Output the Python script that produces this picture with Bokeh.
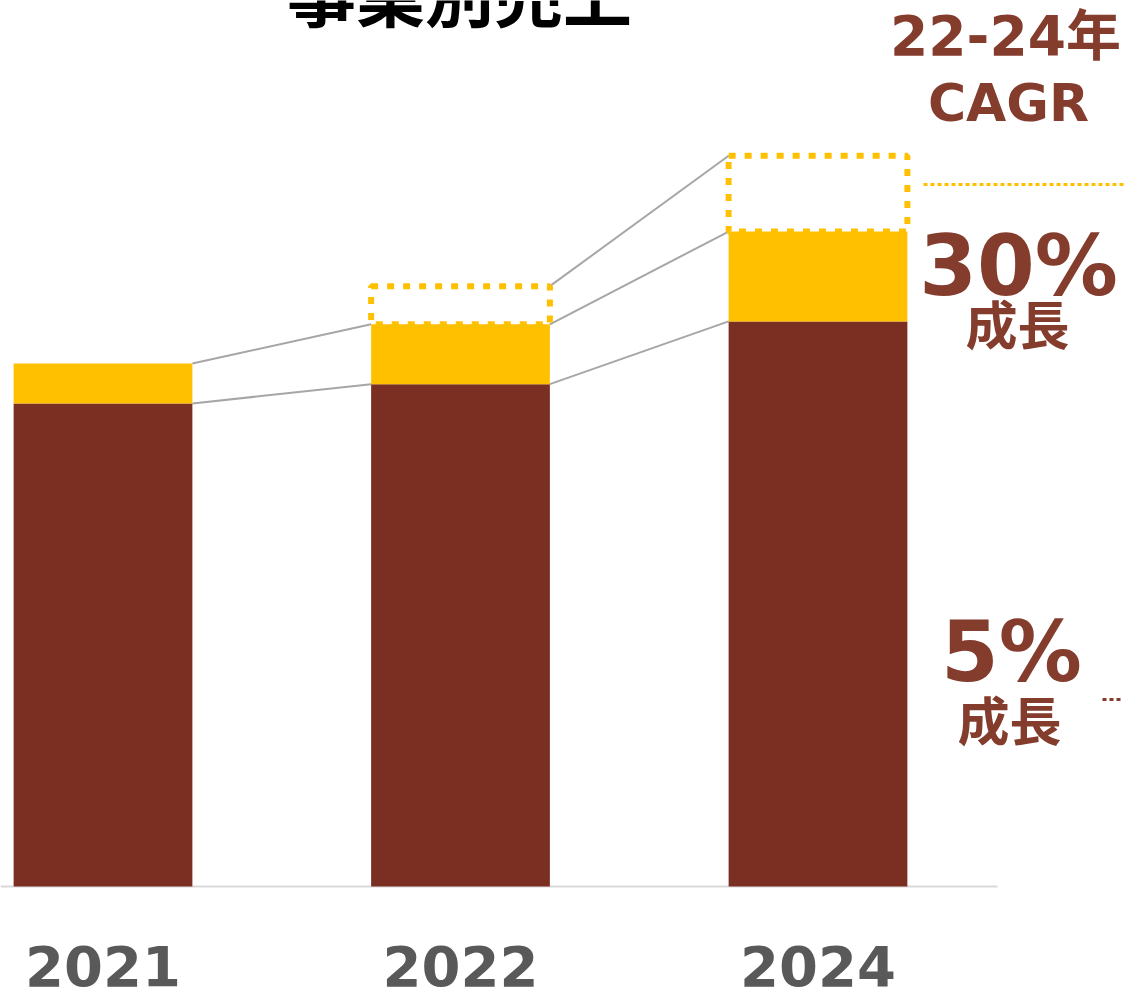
from bokeh.plotting import figure
from bokeh.models import Range1d, Label, ColumnDataSource
from bokeh.core.properties import value
from bokeh.embed import file_html
from bokeh.resources import INLINE

# ---- data ----
years = ["2021", "2022", "2024"]
base_sales = [100.0, 104.0, 117.0]      # brown segment
growth_sales = [8.3, 12.4, 18.6]        # yellow segment
target_extra = [0.0, 7.9, 15.7]         # dotted target box above
title = "事業別売上"
cagr_head = ["22-24年", "CAGR"]
cagr_growth = ["30%", "5%"]
growth_word = "成長"

BROWN = "#7A2F22"
YELLOW = "#FFC000"
TXT = "#843C2C"

W, H = 1125, 993
XS = 357.5      # px per category step
YS = 4.83       # px per value unit
x_start = -102.5 / XS
x_end = x_start + W / XS
y_end = 886 / YS
y_start = -(H - 886) / YS


def sx(px):
    return x_start + px / XS


def sy(py):
    return (886 - py) / YS


p = figure(width=W, height=H, output_backend="svg", toolbar_location=None,
           x_range=Range1d(x_start, x_end), y_range=Range1d(y_start, y_end),
           min_border_left=0, min_border_right=0, min_border_top=0, min_border_bottom=0)
p.axis.visible = False
p.grid.visible = False
p.outline_line_color = None
p.background_fill_color = "white"
p.border_fill_color = "white"

idx = list(range(len(years)))
totals = [b + g for b, g in zip(base_sales, growth_sales)]
tops = [t + e for t, e in zip(totals, target_extra)]
bw = 0.5

# connectors
cx0, cx1, cy0, cy1 = [], [], [], []
for i in range(len(years) - 1):
    for a, b in ((base_sales[i], base_sales[i + 1]), (totals[i], totals[i + 1])):
        cx0.append(i + bw / 2); cx1.append(i + 1 - bw / 2); cy0.append(a); cy1.append(b)
    if target_extra[i] > 0 and target_extra[i + 1] > 0:
        cx0.append(i + bw / 2); cx1.append(i + 1 - bw / 2); cy0.append(tops[i]); cy1.append(tops[i + 1])
p.segment(x0=cx0, y0=cy0, x1=cx1, y1=cy1, line_color="#A6A6A6", line_width=2)

# axis line
p.segment(x0=[x_start], y0=[0], x1=[sx(997)], y1=[0], line_color="#D9D9D9", line_width=2)

src = ColumnDataSource(dict(x=idx, base=base_sales, tot=totals))
p.vbar(x="x", width=bw, bottom=0, top="base", source=src, fill_color=BROWN, line_color=None)
p.vbar(x="x", width=bw, bottom="base", top="tot", source=src, fill_color=YELLOW, line_color=None)

# dotted target boxes
bi = [i for i in idx if target_extra[i] > 0]
p.quad(left=[i - bw / 2 for i in bi], right=[i + bw / 2 for i in bi],
       bottom=[totals[i] for i in bi], top=[tops[i] for i in bi],
       fill_alpha=0, line_color=YELLOW, line_width=6, line_dash="7 9")

# dotted guide lines
p.segment(x0=[sx(923)], y0=[sy(184)], x1=[x_end], y1=[sy(184)], line_color=YELLOW,
          line_width=3, line_dash="4 3")
p.segment(x0=[sx(1102)], y0=[sy(699)], x1=[sx(1123)], y1=[sy(699)], line_color=TXT,
          line_width=3, line_dash="4 3")

# year labels
p.text(x=idx, y=[sy(965)] * len(idx), text=years, text_align="center",
       text_baseline="alphabetic", text_font=value("DejaVu Sans"), text_font_style="bold",
       text_font_size="56px", text_color="#595959")


def lab(txt, cx, base, size, font="DejaVu Sans, Noto Sans CJK JP", color=TXT):
    p.add_layout(Label(x=sx(cx), y=sy(base), text=txt, text_align="center",
                       text_baseline="alphabetic", text_font=font, text_font_style="bold",
                       text_font_size=size, text_color=color))


# title (cut at top as in reference)
lab(title, 459, -9, "69px", "Noto Sans CJK JP", "black")

lab(cagr_head[0], 1005, 35, "55px")
lab(cagr_head[1], 1008, 102, "52px")
lab(cagr_growth[0], 1018, 266, "83px")
lab(growth_word, 1017, 322, "52px", "Noto Sans CJK JP")
lab(cagr_growth[1], 1011, 652, "83px")
lab(growth_word, 1009, 718, "52px", "Noto Sans CJK JP")

open("out.html", "w").write(file_html(p, INLINE))
